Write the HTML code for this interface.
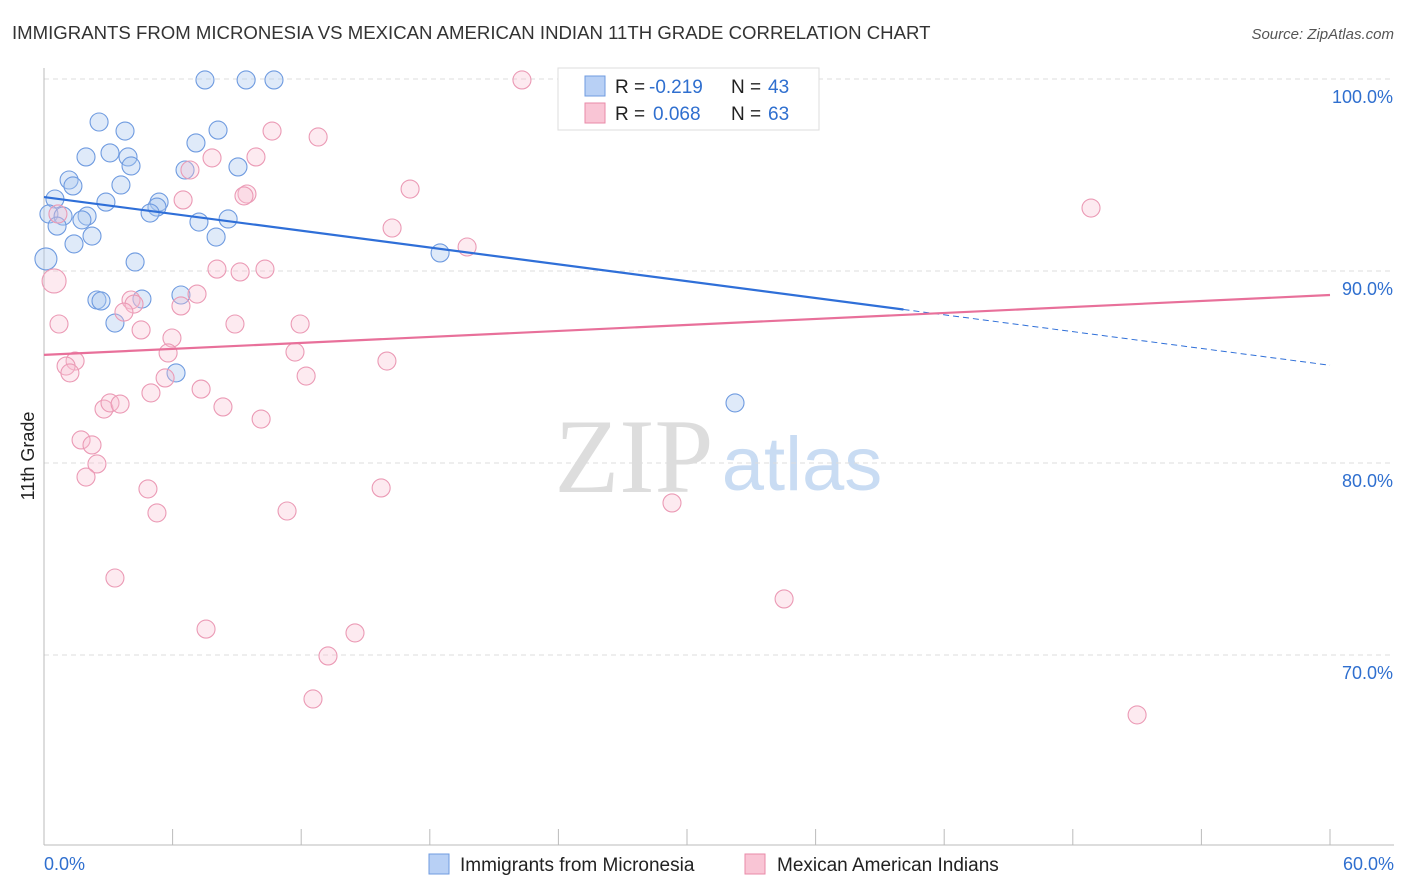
<!DOCTYPE html>
<html><head><meta charset="utf-8"><style>
body{margin:0;background:#fff;font-family:"Liberation Sans",sans-serif;}
#wrap{position:relative;width:1406px;height:892px;overflow:hidden;}
</style></head><body>
<div id="wrap">
<svg id="svg" width="1406" height="892">
<text x="12" y="39" font-size="18.6" fill="#333">IMMIGRANTS FROM MICRONESIA VS MEXICAN AMERICAN INDIAN 11TH GRADE CORRELATION CHART</text>
<text x="1394" y="39" font-size="15" fill="#555" font-style="italic" text-anchor="end">Source: ZipAtlas.com</text>
<text x="634" y="492" font-size="106" fill="#ddd" font-family="Liberation Serif,serif" text-anchor="middle">ZIP</text>
<text x="802" y="490" font-size="76" fill="#c9dcf3" text-anchor="middle">atlas</text>
<text transform="translate(34,456) rotate(-90)" font-size="18" fill="#222" text-anchor="middle">11th Grade</text>
<g id="grid"></g><g id="axes"></g><g id="pts"></g><g id="trend"></g>
<g>
<rect x="558" y="68" width="261" height="62" fill="#fff" stroke="#ddd"/>
<rect x="585" y="76" width="20" height="20" fill="#b8d0f5" stroke="#6f9be0"/>
<rect x="585" y="103" width="20" height="20" fill="#f9c5d5" stroke="#e98aa8"/>
<text x="615" y="93" font-size="19" fill="#222">R =</text>
<text x="649" y="93" font-size="19" fill="#2f6fcf">-0.219</text>
<text x="731" y="93" font-size="19" fill="#222">N =</text>
<text x="768" y="93" font-size="19" fill="#2f6fcf">43</text>
<text x="615" y="120" font-size="19" fill="#222">R =</text>
<text x="653" y="120" font-size="19" fill="#2f6fcf">0.068</text>
<text x="731" y="120" font-size="19" fill="#222">N =</text>
<text x="768" y="120" font-size="19" fill="#2f6fcf">63</text>
</g>
<g>
<rect x="429" y="854" width="20" height="20" fill="#b8d0f5" stroke="#6f9be0"/>
<text x="460" y="871" font-size="19" fill="#222">Immigrants from Micronesia</text>
<rect x="745" y="854" width="20" height="20" fill="#f9c5d5" stroke="#e98aa8"/>
<text x="777" y="871" font-size="19" fill="#222">Mexican American Indians</text>
</g>
<text x="44" y="870" font-size="18" fill="#2f6fcf">0.0%</text>
<text x="1394" y="870" font-size="18" fill="#2f6fcf" text-anchor="end">60.0%</text>
</svg>
</div>
<script>
const yTicks=[100,90,80,70];
const yTickLabels=["100.0%","90.0%","80.0%","70.0%"];
const blueX=[7.51,9.43,10.73,2.57,3.78,8.12,7.09,3.08,1.96,3.92,4.06,6.58,9.05,1.17,1.35,3.59,0.51,2.89,5.37,5.27,4.95,0.23,0.89,2.01,1.77,0.61,7.23,8.59,2.24,1.40,8.03,18.48,0.09,4.25,2.47,2.66,4.57,6.39,3.31,6.16,32.24];
const blueY=[99.95,99.95,99.95,97.76,97.29,97.34,96.67,96.15,95.94,95.94,95.47,95.26,95.42,94.74,94.43,94.48,93.75,93.59,93.59,93.33,93.02,92.97,92.86,92.86,92.66,92.34,92.55,92.71,91.82,91.41,91.77,90.94,90.63,90.47,88.49,88.44,88.54,88.75,87.29,84.69,83.13];
const pinkX=[22.30,26.22,28.60,31.64,10.64,12.79,7.84,9.89,6.81,6.49,9.47,9.33,17.08,48.85,16.24,19.74,0.65,0.47,8.07,9.15,10.31,0.70,4.06,4.20,3.73,6.39,7.14,5.97,4.53,8.91,11.95,5.79,11.71,16.00,1.45,1.03,1.21,5.65,12.23,4.99,7.33,2.80,3.08,3.55,8.35,10.13,1.73,2.24,2.47,1.96,4.85,15.73,5.27,11.34,29.30,3.31,34.53,7.56,14.51,13.25,12.55,51.00];
const pinkY=[99.95,99.95,99.95,99.95,97.29,96.98,95.89,95.94,95.26,93.70,94.01,93.91,94.27,93.28,92.24,91.25,92.97,89.48,90.10,89.95,90.10,87.24,88.49,88.28,87.86,88.18,88.80,86.51,86.93,87.24,87.24,85.73,85.78,85.31,85.31,85.05,84.69,84.43,84.53,83.65,83.85,82.81,83.13,83.07,82.92,82.29,81.20,80.94,79.95,79.27,78.65,78.70,77.40,77.50,77.92,74.01,72.92,71.35,71.15,69.95,67.71,66.88];
const blueTrend=[93.85,-0.146];
const pinkTrend=[85.63,0.052];
const NS="http://www.w3.org/2000/svg";
const xs=v=>44+v*1286/60;
const ys=v=>79+(100-v)*19.2;
function mk(t,a,p){const e=document.createElementNS(NS,t);for(const k in a)e.setAttribute(k,a[k]);p.appendChild(e);return e;}
const grid=document.getElementById('grid');
yTicks.forEach((t,i)=>{
  const l=mk('line',{x1:44,x2:1394,y1:ys(t),y2:ys(t),stroke:'#ddd','stroke-dasharray':'5,4'},grid);
  
  
  const tx=mk('text',{x:1393,y:ys(t)+24,'font-size':18,fill:'#2f6fcf','text-anchor':'end'},grid);
  tx.textContent=yTickLabels[i];
  
  
});
const ax=document.getElementById('axes');
mk('line',{x1:44,x2:44,y1:68,y2:845,stroke:'#bbb'},ax);
mk('line',{x1:44,x2:1394,y1:845,y2:845,stroke:'#bbb'},ax);
for(let i=0;i<=10;i++){const l=mk('line',{x1:xs(i*6),x2:xs(i*6),y1:829,y2:845,stroke:'#bbb'},ax);
  
  }
const pts=document.getElementById('pts');
blueX.forEach((x,i)=>{const c=mk('circle',{cx:xs(x),cy:ys(blueY[i]),r:(i==32?11:9),fill:'rgba(170,200,240,0.38)',stroke:'#6f9be0','stroke-width':1.1},pts);
  
  });
pinkX.forEach((x,i)=>{const c=mk('circle',{cx:xs(x),cy:ys(pinkY[i]),r:(i==17?12:9),fill:'rgba(248,190,210,0.33)',stroke:'#eb9ab5','stroke-width':1.1},pts);
  
  });
const tr=document.getElementById('trend');
const bEnd=40.1;
let l=mk('line',{x1:xs(0),y1:ys(blueTrend[0]),x2:xs(bEnd),y2:ys(blueTrend[0]+blueTrend[1]*bEnd),stroke:'#2f6fd8','stroke-width':2.2},tr);


l=mk('line',{x1:xs(bEnd),y1:ys(blueTrend[0]+blueTrend[1]*bEnd),x2:xs(60),y2:ys(blueTrend[0]+blueTrend[1]*60),stroke:'#2f6fd8','stroke-width':1,'stroke-dasharray':'6,4'},tr);


l=mk('line',{x1:xs(0),y1:ys(pinkTrend[0]),x2:xs(60),y2:ys(pinkTrend[0]+pinkTrend[1]*60),stroke:'#e8709a','stroke-width':2.2},tr);


</script>
</body></html>
